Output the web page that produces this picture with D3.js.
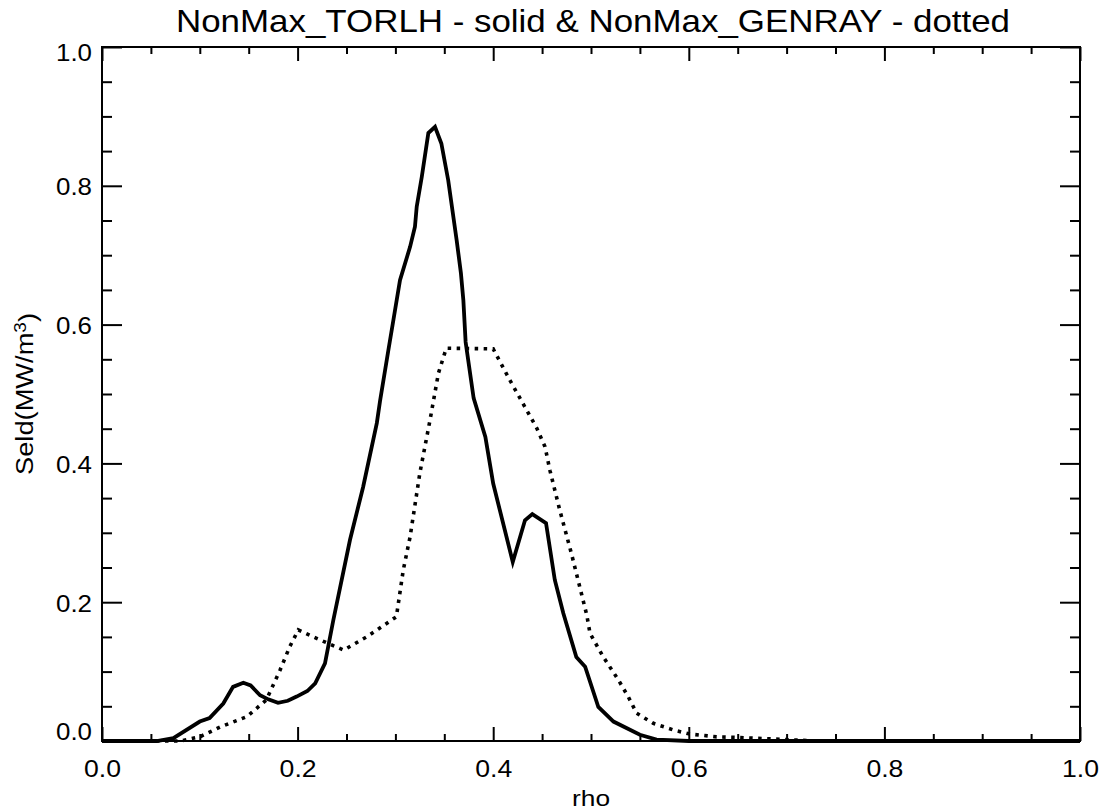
<!DOCTYPE html>
<html>
<head>
<meta charset="utf-8">
<script src="https://cdn.jsdelivr.net/npm/d3@7"></script>
<style>
  html, body { margin: 0; padding: 0; background: #fff; }
  svg { display: block; }
  text { font-family: "Liberation Sans", Arial, Helvetica, sans-serif; fill: #000; }
</style>
</head>
<body>
<svg id="chart" width="1106" height="812"></svg>
<script>
// ---- data ----
const titleText = "NonMax_TORLH - solid & NonMax_GENRAY - dotted";
const xLabel = "rho";
const yLabelMain = "Seld(MW/m";
const yLabelSup = "3";

const xMajorTicks = [0.0, 0.2, 0.4, 0.6, 0.8, 1.0];
const yMajorTicks = [0.0, 0.2, 0.4, 0.6, 0.8, 1.0];
const tickLabels = ["0.0", "0.2", "0.4", "0.6", "0.8", "1.0"];

const torlhRho = [0, 0.056, 0.073, 0.1, 0.11, 0.124, 0.134, 0.1445, 0.152, 0.1616, 0.17, 0.18, 0.19, 0.199, 0.21, 0.218, 0.228, 0.2365, 0.2536, 0.267, 0.281, 0.2843, 0.2928, 0.298, 0.3047, 0.315, 0.32, 0.3218, 0.327, 0.3337, 0.3405, 0.347, 0.354, 0.3626, 0.367, 0.3695, 0.3718, 0.38, 0.392, 0.4, 0.42, 0.4325, 0.44, 0.454, 0.463, 0.4717, 0.485, 0.494, 0.5075, 0.523, 0.55, 0.567, 0.6, 0.7, 0.8, 0.9, 1.0];
const torlhSeld = [0, 0, 0.004, 0.028, 0.033, 0.054, 0.078, 0.084, 0.080, 0.066, 0.060, 0.055, 0.058, 0.064, 0.072, 0.083, 0.112, 0.174, 0.290, 0.366, 0.458, 0.490, 0.563, 0.607, 0.664, 0.712, 0.741, 0.770, 0.813, 0.876, 0.885, 0.861, 0.808, 0.722, 0.674, 0.635, 0.575, 0.494, 0.438, 0.371, 0.258, 0.318, 0.327, 0.314, 0.232, 0.184, 0.121, 0.107, 0.049, 0.028, 0.009, 0.002, 0, 0, 0, 0, 0];

const genrayRho = [0, 0.08, 0.1, 0.1207, 0.148, 0.168, 0.182, 0.192, 0.2007, 0.216, 0.247, 0.2706, 0.301, 0.308, 0.315, 0.325, 0.3354, 0.344, 0.352, 0.4, 0.417, 0.4445, 0.453, 0.458, 0.468, 0.48, 0.4956, 0.499, 0.5126, 0.528, 0.538, 0.5467, 0.5637, 0.584, 0.601, 0.6285, 0.652, 0.7, 0.73, 1.0];
const genraySeld = [0, 0, 0.006, 0.020, 0.035, 0.059, 0.102, 0.136, 0.160, 0.150, 0.131, 0.150, 0.179, 0.246, 0.294, 0.386, 0.4625, 0.530, 0.566, 0.565, 0.520, 0.451, 0.424, 0.390, 0.333, 0.270, 0.182, 0.155, 0.121, 0.088, 0.064, 0.040, 0.0255, 0.016, 0.010, 0.006, 0.005, 0.002, 0, 0];

// ---- layout ----
const L = 102, R = 1080, T = 47, B = 741;
const svg = d3.select("#chart");
const x = d3.scaleLinear().domain([0, 1]).range([L, R]);
const y = d3.scaleLinear().domain([0, 1]).range([B, T]);

const minorX = d3.range(0, 21).map(i => i * 0.05).filter(v => !xMajorTicks.some(m => Math.abs(m - v) < 1e-9));
const minorY = minorX.slice();

function styleAxis(g) {
  g.select(".domain").remove();
  g.selectAll(".tick line").attr("stroke", "#000").attr("stroke-width", 2);
}

// bottom axis: major (with labels) and minor
svg.append("g").attr("transform", `translate(0,${B})`)
  .call(d3.axisBottom(x).tickValues(xMajorTicks).tickSize(-14).tickPadding(19)
    .tickFormat((d, i) => tickLabels[i]))
  .call(styleAxis)
  .call(g => g.selectAll("text").attr("font-size", 24)
    .attr("font-family", "Liberation Sans, Arial, sans-serif")
    .attr("textLength", 37).attr("lengthAdjust", "spacingAndGlyphs"));
svg.append("g").attr("transform", `translate(0,${B})`)
  .call(d3.axisBottom(x).tickValues(minorX).tickSize(-7).tickFormat(""))
  .call(styleAxis);
// top axis
svg.append("g").attr("transform", `translate(0,${T})`)
  .call(d3.axisTop(x).tickValues(xMajorTicks).tickSize(-14).tickFormat(""))
  .call(styleAxis);
svg.append("g").attr("transform", `translate(0,${T})`)
  .call(d3.axisTop(x).tickValues(minorX).tickSize(-7).tickFormat(""))
  .call(styleAxis);
// left axis
svg.append("g").attr("transform", `translate(${L},0)`)
  .call(d3.axisLeft(y).tickValues(yMajorTicks).tickSize(-20).tickPadding(10)
    .tickFormat((d, i) => tickLabels[i]))
  .call(styleAxis)
  .call(g => g.selectAll("text").attr("font-size", 24)
    .attr("font-family", "Liberation Sans, Arial, sans-serif")
    .attr("textLength", 36).attr("lengthAdjust", "spacingAndGlyphs")
    .attr("dy", d => d === 0 ? "-0.06em" : (d === 1 ? "0.57em" : "0.38em")));
svg.append("g").attr("transform", `translate(${L},0)`)
  .call(d3.axisLeft(y).tickValues(minorY).tickSize(-10).tickFormat(""))
  .call(styleAxis);
// right axis
svg.append("g").attr("transform", `translate(${R},0)`)
  .call(d3.axisRight(y).tickValues(yMajorTicks).tickSize(-20).tickFormat(""))
  .call(styleAxis);
svg.append("g").attr("transform", `translate(${R},0)`)
  .call(d3.axisRight(y).tickValues(minorY).tickSize(-10).tickFormat(""))
  .call(styleAxis);

// frame
svg.append("rect").attr("x", L).attr("y", T).attr("width", R - L).attr("height", B - T)
  .attr("fill", "none").attr("stroke", "#000").attr("stroke-width", 2);

// ---- lines ----
const line = d3.line().x(d => x(d[0])).y(d => y(d[1]));
const torlh = torlhRho.map((r, i) => [r, torlhSeld[i]]);
const genray = genrayRho.map((r, i) => [r, genraySeld[i]]);

svg.append("path").datum(genray).attr("d", line)
  .attr("fill", "none").attr("stroke", "#000").attr("stroke-width", 3.6)
  .attr("stroke-dasharray", "3.5,5.5").attr("stroke-linejoin", "miter");
svg.append("path").datum(torlh).attr("d", line)
  .attr("fill", "none").attr("stroke", "#000").attr("stroke-width", 3.8)
  .attr("stroke-linejoin", "miter").attr("stroke-miterlimit", 4);

// ---- titles ----
svg.append("text").attr("x", 593).attr("y", 32).attr("text-anchor", "middle")
  .attr("font-size", 32).attr("textLength", 834).attr("lengthAdjust", "spacingAndGlyphs")
  .text(titleText);
svg.append("text").attr("x", 591).attr("y", 806).attr("text-anchor", "middle")
  .attr("font-size", 22).attr("textLength", 38).attr("lengthAdjust", "spacingAndGlyphs")
  .text(xLabel);
const yl = svg.append("text").attr("transform", "translate(33,394) rotate(-90)")
  .attr("text-anchor", "middle").attr("font-size", 23)
  .attr("textLength", 162).attr("lengthAdjust", "spacingAndGlyphs");
yl.append("tspan").text(yLabelMain);
yl.append("tspan").attr("dy", "-0.45em").attr("font-size", 16).text(yLabelSup);
yl.append("tspan").attr("dy", "0.45em").text(")");
</script>
</body>
</html>
